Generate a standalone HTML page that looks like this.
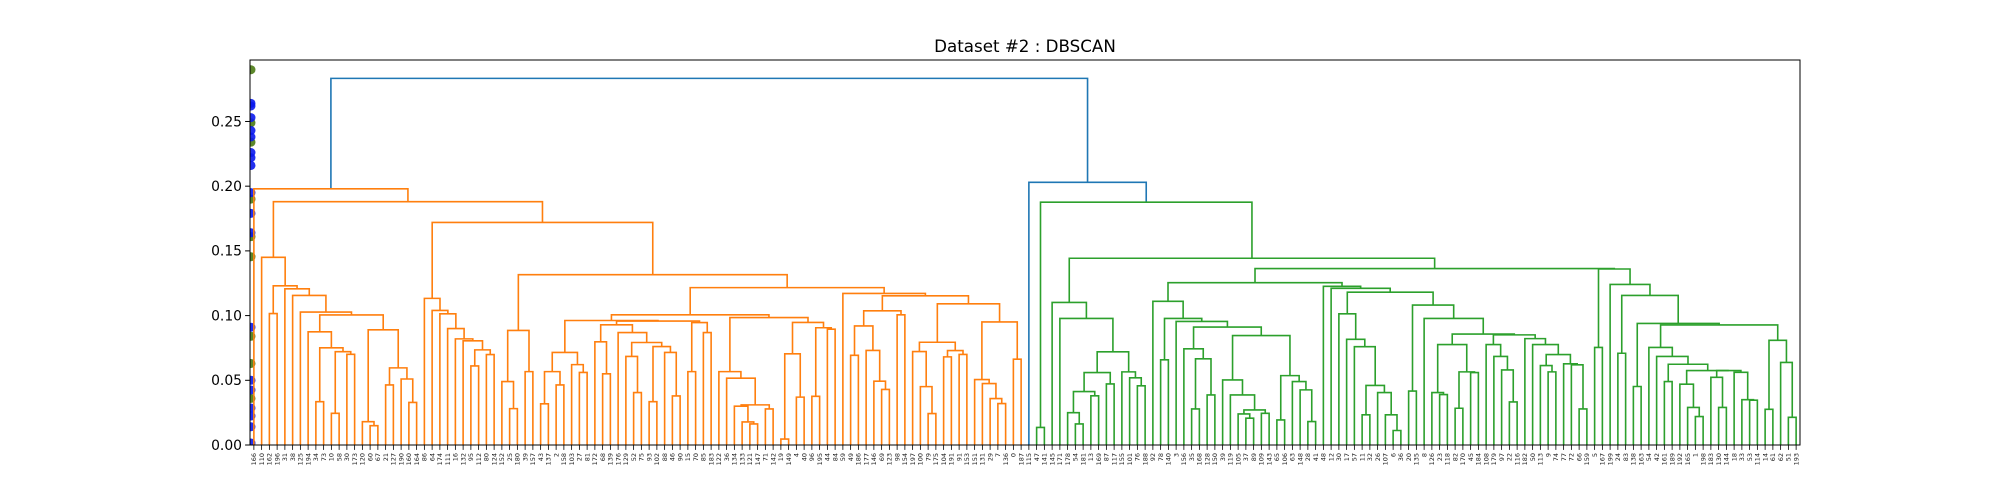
<!DOCTYPE html>
<html><head><meta charset="utf-8">
<style>
html,body{margin:0;padding:0;background:#fff;}
svg{display:block;font-family:"DejaVu Sans","Liberation Sans",sans-serif;}
</style></head>
<body>
<svg id="chart" width="2000" height="500" viewBox="0 0 2000 500" xmlns="http://www.w3.org/2000/svg">
<rect width="2000" height="500" fill="#fff"/>
<text x="1025" y="52" font-size="16.7" text-anchor="middle" fill="#000">Dataset #2 : DBSCAN</text>
<defs><clipPath id="plotclip"><rect x="250" y="60" width="1550" height="385"/></clipPath></defs>
<g id="dots" clip-path="url(#plotclip)"></g>
<g id="links"></g>
<g id="axes"></g>
</svg>
<script>
const leafLabels = [166,110,162,196,31,38,125,194,34,73,10,58,30,173,120,60,67,21,127,190,160,164,
86,64,174,111,16,132,95,112,80,124,152,25,180,39,157,43,137,2,158,103,27,81,172,68,139,176,129,52,
75,93,102,88,46,90,15,70,85,183,122,36,134,133,121,147,71,142,19,149,4,40,96,195,44,84,
59,49,186,177,146,69,123,98,154,197,100,79,175,104,191,91,153,151,131,29,7,136,0,187,
115,47,141,145,171,178,54,181,13,169,87,117,155,101,76,188,92,78,140,3,156,35,168,128,150,39,
119,105,37,89,109,143,65,106,63,148,28,41,48,12,30,17,57,11,32,26,107,6,36,20,135,8,
126,23,118,82,170,45,184,108,179,97,22,116,182,50,113,9,74,77,72,66,159,5,167,199,24,83,138,163,
54,42,161,189,192,165,1,198,183,130,144,18,33,53,114,14,61,62,51,193];
const yTicks = [0,0.05,0.10,0.15,0.20,0.25];
const yMax = 0.2975;
const greenDots = [0.290,0.249,0.234,0.190,0.161,0.1455,0.084,0.063,0.036];
const blueDots = [0.264,0.262,0.253,0.243,0.238,0.226,0.222,0.216,0.195,0.179,0.164,0.091,0.050,0.0425,0.0286,0.0224,0.0141,0.0015];

const n486 = [0.0875,7,[0.0751,[0.0335,8,9],[0.0721,[0.0245,10,11],[0.0701,12,13]]]];
const n480 = [0.089,[0.018,14,[0.0149,15,16]],[0.0596,[0.0464,17,18],[0.051,19,[0.0329,20,21]]]];
const B = [0.145,1,[0.123,[0.1016,2,3],[0.1207,4,[0.1156,5,[0.1027,6,[0.1005,n486,n480]]]]]];
const N1 = [0.1014,24,[0.090,25,[0.082,26,[0.0805,27,[0.0735,[0.0611,28,29],[0.0699,30,31]]]]]];
const D = [0.1133,22,[0.104,23,N1]];
const N8 = [0.0885,[0.049,32,[0.0281,33,34]],[0.0567,35,36]];
const n550 = [0.0715,[0.0567,[0.0318,37,38],[0.0464,39,40]],[0.0621,41,[0.0561,42,43]]];
const Z4 = [0.0761,[0.0335,51,52],[0.0715,53,[0.0379,54,55]]];
const Z5 = [0.0792,[0.0684,48,[0.0405,49,50]],Z4];
const Y3 = [0.0929,[0.0797,44,[0.055,45,46]],[0.0869,47,Z5]];
const V = [0.0946,[0.0567,56,57],[0.0869,58,59]];
const Q = [0.0962,n550,[0.0958,Y3,V]];
const n605 = [0.0567,60,[0.0516,61,[0.031,[0.030,62,[0.0178,63,[0.0163,64,65]]],[0.0279,66,67]]]];
const U = [0.0947,[0.0705,[0.0046,68,69],[0.037,70,71]],[0.0906,[0.0376,72,73],[0.0895,74,75]]];
const P = [0.1006,Q,[0.0985,n605,U]];
const n428 = [0.1037,[0.0920,[0.0693,77,78],[0.0731,79,[0.0493,80,[0.0429,81,82]]]],[0.1006,83,84]];
const n402 = [0.1091,[0.0794,[0.0722,85,[0.0451,86,[0.0243,87,88]]],[0.073,[0.0681,89,90],[0.070,91,92]]],
  [0.0951,[0.0506,93,[0.0475,94,[0.0359,95,[0.0320,96,97]]]],[0.0663,98,99]]];
const W = [0.1171,76,[0.1153,n428,n402]];
const K = [0.1316,N8,[0.1216,P,W]];
const orangeRoot = [0.198,0,[0.188,B,[0.172,D,K]]];

const h998 = [0.0560,[0.0413,[0.0250,105,[0.0163,106,107]],[0.0380,108,109]],[0.0472,110,111]];
const h996 = [0.0565,112,[0.0519,113,[0.0457,114,115]]];
const H1 = [0.1102,103,[0.0978,104,[0.0720,h998,h996]]];
const n927 = [0.0743,120,[0.0666,[0.0279,121,122],[0.0387,123,124]]];
const n887 = [0.0846,[0.0503,125,[0.0387,126,[0.0271,[0.0240,127,[0.0207,128,129]],[0.0245,130,131]]]],
  [0.0536,[0.0194,132,133],[0.049,134,[0.0426,135,[0.0181,136,137]]]]];
const n785 = [0.1110,116,[0.0978,[0.0658,117,118],[0.0955,119,[0.0911,n927,n887]]]];
const n914 = [0.0776,[0.0405,152,[0.039,153,154]],[0.0565,[0.0284,155,156],[0.056,157,158]]];
const n884 = [0.0851,[0.0776,159,[0.0684,160,[0.0580,161,[0.0333,162,163]]]],
  [0.0822,164,[0.0776,165,[0.0699,[0.0614,166,[0.0565,167,168]],[0.0627,169,[0.062,170,[0.0279,171,172]]]]]]];
const n797 = [0.1081,[0.0417,149,150],[0.0978,151,[0.0857,n914,n884]]];
const NN = [0.1181,[0.1014,140,[0.0817,141,[0.0760,142,[0.0460,[0.0233,143,144],[0.0405,145,[0.0233,146,[0.0112,147,148]]]]]]],n797];
const n740 = [0.1226,138,[0.1211,139,NN]];
const n729 = [0.1254,n785,n740];
const n923 = [0.0754,180,[0.0684,181,[0.0624,[0.049,182,183],[0.0575,[0.047,184,[0.029,185,[0.022,186,187]]],
  [0.0575,[0.0523,188,[0.029,189,190]],[0.0562,191,[0.035,192,[0.0346,193,194]]]]]]]];
const n900 = [0.0809,[0.0276,195,196],[0.0638,197,[0.0214,198,199]]];
const n852 = [0.0939,[0.0452,178,179],[0.0928,n923,n900]];
const R = [0.1360,[0.0754,173,174],[0.1241,175,[0.1156,[0.0709,176,177],n852]]];
const greenRoot = [0.1876,[0.0136,101,102],[0.1443,H1,[0.1363,n729,R]]];
const root = [0.2833,orangeRoot,[0.203,100,greenRoot]];

const NS = "http://www.w3.org/2000/svg";
const X0 = 250, X1 = 1800, Y0 = 445, Y1 = 60;
const nLeaves = leafLabels.length;
const xScale = i => X0 + (X1 - X0) * (i + 0.5) / nLeaves;
const yScale = v => Y0 - (Y0 - Y1) * v / yMax;
const ORANGE = "#ff7f0e", GREEN = "#2ca02c", BLUE = "#1f77b4";
const links = document.getElementById("links");

function layout(node) {
  if (typeof node === "number") return {x: xScale(node), h: 0};
  const a = layout(node[1]), b = layout(node[2]);
  return {x: (a.x + b.x) / 2, h: node[0], a, b};
}
function draw(L, color) {
  if (!L.a) return;
  const p = document.createElementNS(NS, "path");
  p.setAttribute("d", `M${L.a.x},${yScale(L.a.h)} V${yScale(L.h)} H${L.b.x} V${yScale(L.b.h)}`);
  p.setAttribute("fill", "none");
  p.setAttribute("stroke", color);
  p.setAttribute("stroke-width", "1.6");
  
  
  links.appendChild(p);
  draw(L.a, color); draw(L.b, color);
}
const Lroot = layout(root);
(function(){
  function blueLink(L){
    const p = document.createElementNS(NS, "path");
    p.setAttribute("d", `M${L.a.x},${yScale(L.a.h)} V${yScale(L.h)} H${L.b.x} V${yScale(L.b.h)}`);
    p.setAttribute("fill","none"); p.setAttribute("stroke",BLUE); p.setAttribute("stroke-width","1.6");
    
    
    links.appendChild(p);
  }
  blueLink(Lroot);
  blueLink(Lroot.b);
})();
draw(Lroot.a, ORANGE);
draw(Lroot.b.b, GREEN);

const dots = document.getElementById("dots");
function dot(v, color){
  const c = document.createElementNS(NS, "circle");
  c.setAttribute("cx", 251); c.setAttribute("cy", yScale(v)); c.setAttribute("r", 4.5);
  c.setAttribute("fill", color); c.setAttribute("fill-opacity", "0.9");
  
  
  dots.appendChild(c);
}
greenDots.forEach(v => dot(v, "#4a7a14"));
blueDots.forEach(v => dot(v, "#0a1aee"));

const axes = document.getElementById("axes");
const frame = document.createElementNS(NS, "rect");
frame.setAttribute("x", X0); frame.setAttribute("y", Y1);
frame.setAttribute("width", X1 - X0); frame.setAttribute("height", Y0 - Y1);
frame.setAttribute("fill", "none"); frame.setAttribute("stroke", "#000"); frame.setAttribute("stroke-width", "1");


axes.appendChild(frame);
yTicks.forEach(t => {
  const y = yScale(t);
  const ln = document.createElementNS(NS, "line");
  ln.setAttribute("x1", X0 - 4.9); ln.setAttribute("x2", X0); ln.setAttribute("y1", y); ln.setAttribute("y2", y);
  ln.setAttribute("stroke", "#000");
  
  
  axes.appendChild(ln);
  const tx = document.createElementNS(NS, "text");
  tx.setAttribute("x", X0 - 8); tx.setAttribute("y", y + 4.8);
  tx.setAttribute("text-anchor", "end"); tx.setAttribute("font-size", "13.9");
  tx.textContent = t.toFixed(2);
  
  
  axes.appendChild(tx);
});
leafLabels.forEach((lab, i) => {
  const x = xScale(i);
  const ln = document.createElementNS(NS, "line");
  ln.setAttribute("x1", x); ln.setAttribute("x2", x); ln.setAttribute("y1", Y0); ln.setAttribute("y2", Y0 + 4.9);
  ln.setAttribute("stroke", "#000"); ln.setAttribute("stroke-width", "0.8");
  
  
  axes.appendChild(ln);
  const tx = document.createElementNS(NS, "text");
  tx.setAttribute("transform", `translate(${x + 2.3},${Y0 + 8}) rotate(-90)`);
  tx.setAttribute("text-anchor", "end"); tx.setAttribute("font-size", "6.5"); tx.setAttribute("fill", "#222");
  tx.textContent = String(lab);
  
  
  axes.appendChild(tx);
});
</script>
</body></html>
